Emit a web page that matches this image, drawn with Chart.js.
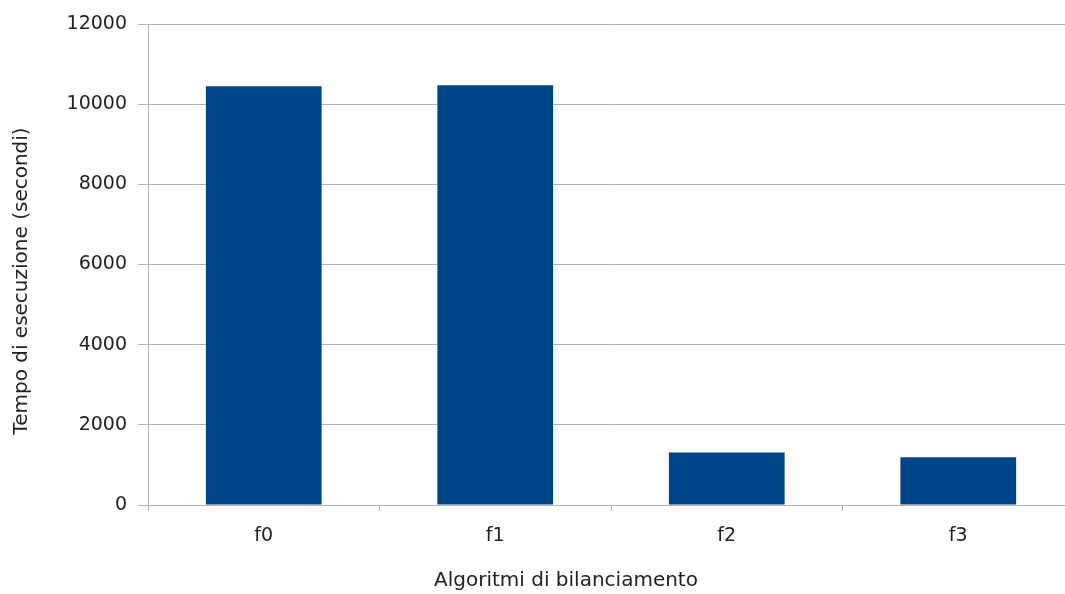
<!DOCTYPE html>
<html>
<head>
<meta charset="utf-8">
<script src="https://cdn.jsdelivr.net/npm/chart.js@4/dist/chart.umd.min.js"></script>
<style>
html,body{margin:0;padding:0;background:#fff;overflow:hidden;}
#wrap{width:1065px;height:594px;overflow:hidden;}
canvas{display:block;}
</style>
</head>
<body>
<div id="wrap"><canvas id="c" width="1074" height="594"></canvas></div>
<script>
const categories = ["f0", "f1", "f2", "f3"];
const tempi = [10450, 10470, 1310, 1190];
const yTicks = [0, 2000, 4000, 6000, 8000, 10000, 12000];
const xTitle = "Algoritmi di bilanciamento";
const yTitle = "Tempo di esecuzione (secondi)";

const FONT = "'DejaVu Sans', 'Liberation Sans', sans-serif";
const TXT = "#222";

const titles = {
  id: 'titles',
  afterDraw(chart) {
    const ctx = chart.ctx;
    ctx.save();
    ctx.fillStyle = TXT;
    ctx.font = "20px " + FONT;
    ctx.textAlign = 'center';
    ctx.textBaseline = 'middle';
    ctx.fillText(xTitle, 566, 581);
    ctx.translate(22, 281);
    ctx.rotate(-Math.PI / 2);
    ctx.fillText(yTitle, 0, 0);
    ctx.restore();
  }
};

new Chart(document.getElementById('c'), {
  type: 'bar',
  data: {
    labels: categories,
    datasets: [{
      data: tempi,
      backgroundColor: '#004586',
      borderWidth: 0,
      barPercentage: 0.5,
      categoryPercentage: 1.0
    }]
  },
  options: {
    responsive: false,
    animation: false,
    layout: { padding: { top: 24, right: 0, left: 0, bottom: 0 } },
    plugins: { legend: { display: false }, tooltip: { enabled: false } },
    scales: {
      x: {
        type: 'category',
        offset: true,
        grid: { display: true, drawOnChartArea: false, drawTicks: true, tickLength: 6, color: '#b3b3b3', offset: true },
        border: { display: true, color: '#b3b3b3' },
        ticks: { color: TXT, font: { family: FONT, size: 19 }, padding: 14 },
        afterFit(s) { s.height = 89; }
      },
      y: {
        min: 0, max: 12000,
        afterBuildTicks(s) { s.ticks = yTicks.map(v => ({ value: v })); },
        grid: { color: '#b3b3b3', tickLength: 10, drawTicks: true },
        border: { display: true, color: '#b3b3b3' },
        ticks: { color: TXT, font: { family: FONT, size: 19 }, padding: 11, callback: v => String(v) },
        afterFit(s) { s.width = 148; }
      }
    }
  },
  plugins: [titles]
});
</script>
</body>
</html>
